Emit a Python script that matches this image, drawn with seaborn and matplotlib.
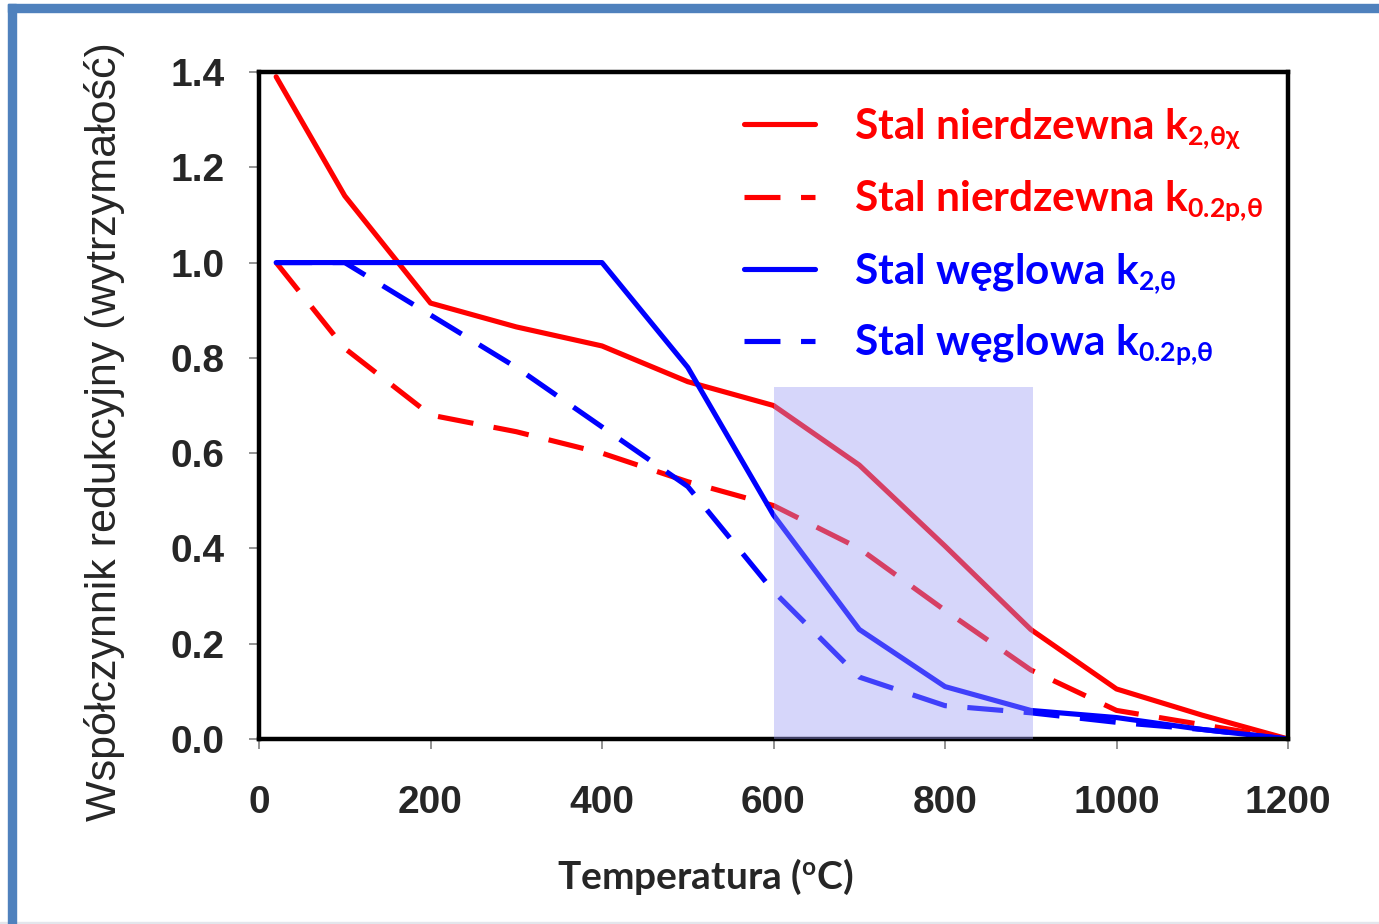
import matplotlib
matplotlib.use('Agg')
import matplotlib.pyplot as plt
import matplotlib._mathtext as mathtext_internals
from matplotlib.patches import Rectangle
import seaborn as sns

# temperatures (deg C)
temps = [20, 100, 200, 300, 400, 500, 600, 700, 800, 900, 1000, 1100, 1200]

# reduction factors
stainless_k2 = [1.39, 1.14, 0.915, 0.865, 0.825, 0.75, 0.70, 0.575, 0.405, 0.23, 0.105, 0.05, 0.0]
stainless_k02 = [1.0, 0.82, 0.68, 0.645, 0.60, 0.54, 0.49, 0.40, 0.27, 0.145, 0.06, 0.03, 0.0]
carbon_k2 = [1.0, 1.0, 1.0, 1.0, 1.0, 0.78, 0.47, 0.23, 0.11, 0.06, 0.045, 0.02, 0.0]
carbon_k02 = [1.0, 1.0, 0.89, 0.78, 0.655, 0.53, 0.31, 0.13, 0.07, 0.055, 0.035, 0.02, 0.0]

labels = ['Stal nierdzewna k$_{\\mathregular{2{,}θχ}}$',
          'Stal nierdzewna k$_{\\mathregular{0.2p{,}θ}}$',
          'Stal węglowa k$_{\\mathregular{2{,}θ}}$',
          'Stal węglowa k$_{\\mathregular{0.2p{,}θ}}$']
colors = ['#FF0000', '#FF0000', '#0000FF', '#0000FF']
styles = ['-', (0, (7, 4)), '-', (0, (7, 4))]

xticks = [0, 200, 400, 600, 800, 1000, 1200]
yticks = [0.0, 0.2, 0.4, 0.6, 0.8, 1.0, 1.2, 1.4]

# highlighted temperature band
band_x = (600, 903)
band_top = 0.738

sns.set_theme(style='white')
plt.rcParams['font.family'] = ['Liberation Sans', 'DejaVu Sans']
plt.rcParams['mathtext.fontset'] = 'custom'
plt.rcParams['mathtext.rm'] = 'Lato:bold'
plt.rcParams['mathtext.it'] = 'Lato:bold'
plt.rcParams['mathtext.bf'] = 'Lato:bold'
# smaller subscripts, closer to the original slide
mathtext_internals.SHRINK_FACTOR = 0.63

fig = plt.figure(figsize=(13.79, 9.24), dpi=100)
fig.patch.set_facecolor('white')
ax = fig.add_axes([259 / 1379, 1 - 739 / 924, 1029 / 1379, 667 / 924])

series = [stainless_k2, stainless_k02, carbon_k2, carbon_k02]
for vals, lab, col, ls in zip(series, labels, colors, styles):
    sns.lineplot(x=temps, y=vals, ax=ax, color=col, linestyle=ls,
                 linewidth=3.7, label=lab, zorder=2)

ax.add_patch(Rectangle((band_x[0], 0), band_x[1] - band_x[0], band_top,
                       facecolor='#9C9CF4', alpha=0.41, edgecolor='none', zorder=3))

ax.set_xlim(0, 1200)
ax.set_ylim(0, 1.4)
ax.set_xticks(xticks)
ax.set_yticks(yticks)
ax.set_yticklabels([f'{v:.1f}' for v in yticks])
ax.tick_params(axis='both', which='major', direction='out', length=7, width=1.2,
               color='#808080', labelsize=28, bottom=True, left=True)
ax.tick_params(axis='x', pad=26)
ax.tick_params(axis='y', pad=18)
for lab in ax.get_xticklabels() + ax.get_yticklabels():
    lab.set_fontweight('bold')
for sp in ax.spines.values():
    sp.set_visible(True)
    sp.set_color('black')
    sp.set_linewidth(3.2)
ax.set_xlabel('')
ax.set_ylabel('')

leg = ax.legend(loc='upper left', bbox_to_anchor=(0.451, 0.98), frameon=False,
                borderpad=0, handlelength=1.68, handletextpad=0.91, labelspacing=0.64,
                prop={'family': 'Lato', 'weight': 'bold', 'size': 30.5})
for txt, col in zip(leg.get_texts(), colors):
    txt.set_color(col)

fig.text(105 / 1379, 1 - 432 / 924, 'Współczynnik redukcyjny (wytrzymałość)',
         rotation=90, ha='center', va='center', fontsize=31)
fig.text(705 / 1379, 1 - 877 / 924, 'Temperatura ($^{\\mathregular{o}}$C)',
         ha='center', va='center', fontsize=28, fontweight='bold', family='Lato')

# slide frame (top and left edges)
fig.add_artist(Rectangle((8 / 1379, 1 - 12 / 924), 1, 8 / 924,
                         transform=fig.transFigure, color='#4F81BD', zorder=10))
fig.add_artist(Rectangle((8 / 1379, 0), 8 / 1379, 1 - 4 / 924,
                         transform=fig.transFigure, color='#4F81BD', zorder=10))
fig.add_artist(Rectangle((0, 0), 1, 2 / 924,
                         transform=fig.transFigure, color='#E3E6EC', zorder=9))

fig.savefig('out.png', dpi=100)
